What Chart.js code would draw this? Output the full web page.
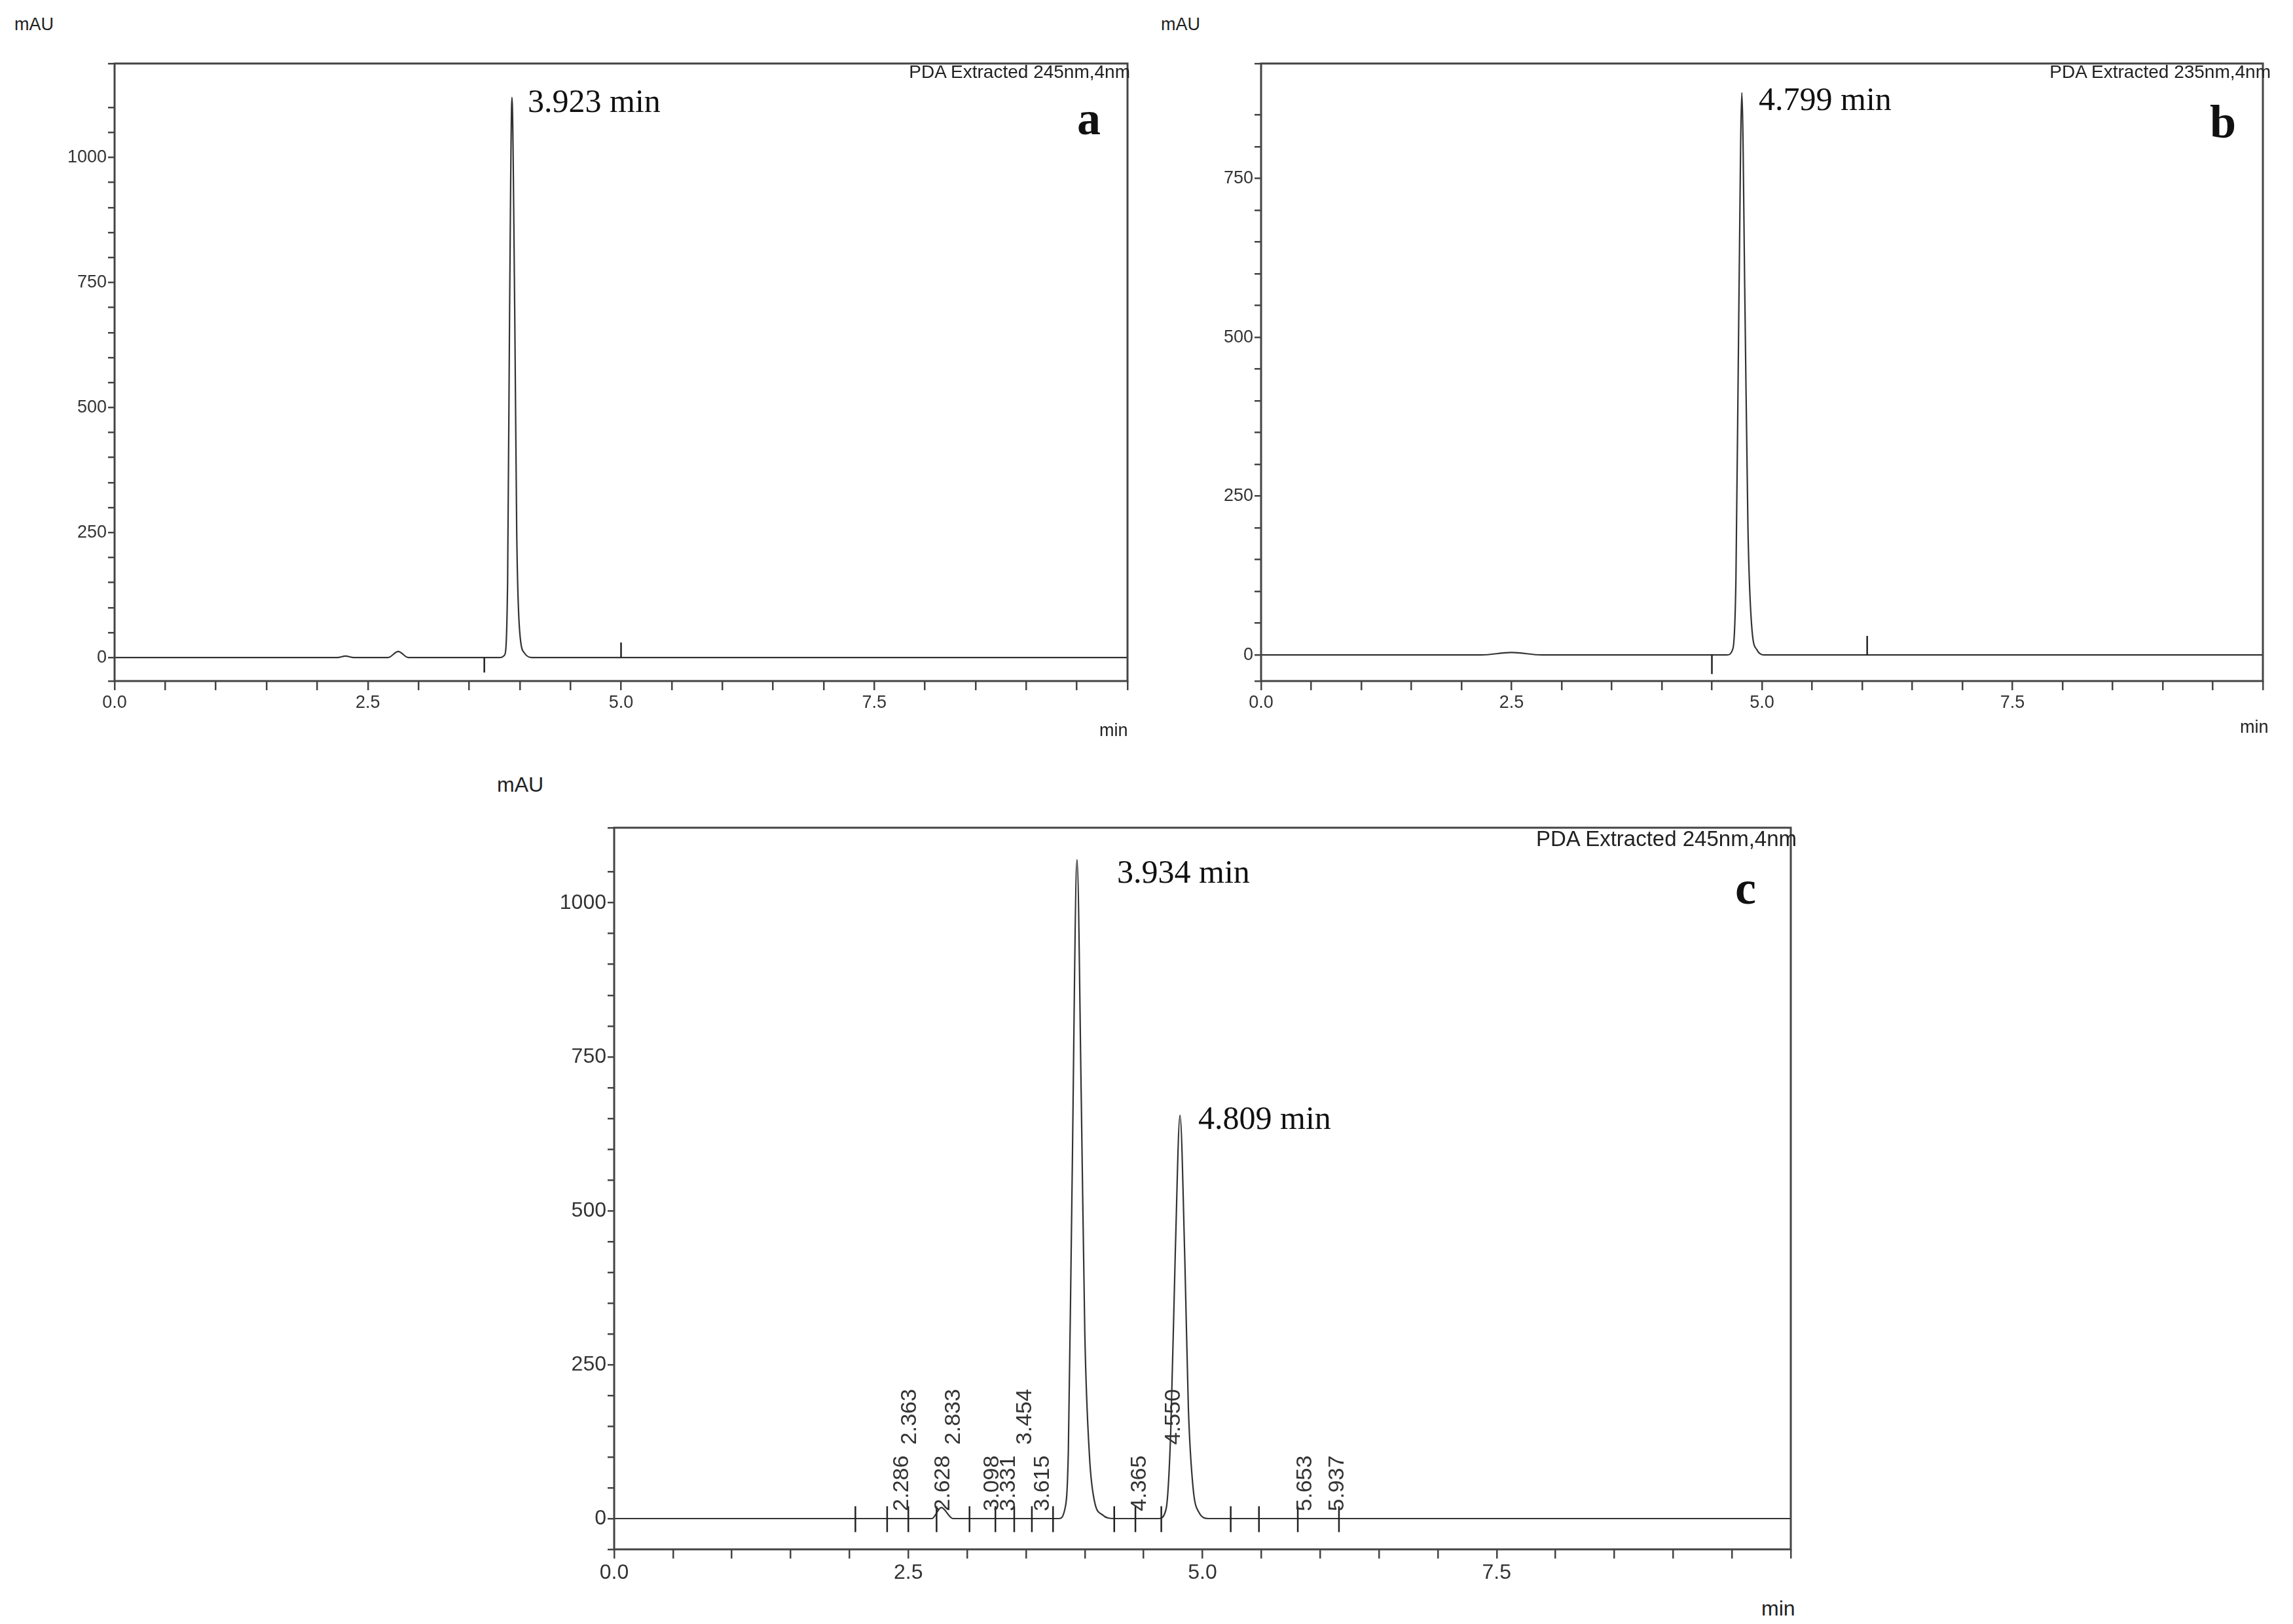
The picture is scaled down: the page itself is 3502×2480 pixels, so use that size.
<!DOCTYPE html>
<html><head><meta charset="utf-8">
<script src="https://cdn.jsdelivr.net/npm/chart.js@4"></script>
<style>
  body { margin:0; width:3502px; height:2480px; background:#fff; position:relative; overflow:hidden; font-family:"Liberation Sans", Arial, sans-serif; }
  canvas { position:absolute; }
  .t { position:absolute; white-space:nowrap; color:#222; }
  .ax { font-size:27px; }
  .pda { font-size:28px; }
  .pk { font-family:"Liberation Serif", "Times New Roman", serif; font-size:50px; color:#111; }
  .lt { font-family:"Liberation Serif", serif; font-weight:bold; font-size:72px; color:#111; }
</style></head>
<body>
<canvas id="ca"></canvas>
<canvas id="cb"></canvas>
<canvas id="cc"></canvas>

<div class="t ax" style="left:22px;top:22px">mAU</div>
<div class="t pda" style="right:1776px;top:94px">PDA Extracted 245nm,4nm</div>
<div class="t pk" style="left:806px;top:125px">3.923 min</div>
<div class="t lt" style="left:1645px;top:140px">a</div>
<div class="t ax" style="left:1679px;top:1100px">min</div>

<div class="t ax" style="left:1773px;top:22px">mAU</div>
<div class="t pda" style="right:34px;top:94px">PDA Extracted 235nm,4nm</div>
<div class="t pk" style="left:2686px;top:122px">4.799 min</div>
<div class="t lt" style="left:3375px;top:145px">b</div>
<div class="t ax" style="left:3421px;top:1095px">min</div>

<div class="t ax" style="left:759px;top:1180px;font-size:32px">mAU</div>
<div class="t pda" style="right:758px;top:1262px;font-size:33px">PDA Extracted 245nm,4nm</div>
<div class="t pk" style="left:1706px;top:1302px">3.934 min</div>
<div class="t pk" style="left:1830px;top:1678px">4.809 min</div>
<div class="t lt" style="left:2650px;top:1315px">c</div>
<div class="t ax" style="left:2690px;top:2438px;font-size:32px">min</div>

<script>
// ── Data (time in min, absorbance in mAU) ──────────────────

const traceA = [
  [0,0],[2.2,0],[2.28,3],[2.36,0],[2.7,0],[2.8,12],[2.9,0],[3.8,0],[3.85,5],[3.88,150],[3.9,700],
  [3.923,1120],[3.95,700],[3.97,250],[4.0,50],[4.05,8],[4.12,0],[10,0]
];
const markersA = [[3.65,-30],[5.0,30]];

const traceB = [
  [0,0],[2.2,0],[2.5,4],[2.8,0],[4.65,0],[4.71,10],[4.74,120],[4.77,560],[4.799,885],[4.83,550],
  [4.86,200],[4.9,40],[4.95,8],[5.02,0],[10,0]
];
const markersB = [[4.5,-30],[6.05,30]];

const traceC = [
  [0,0],[2.7,0],[2.78,18],[2.88,0],[3.78,0],[3.83,15],[3.86,110],[3.89,520],[3.934,1070],[3.97,680],
  [4.0,300],[4.04,100],[4.08,30],[4.15,6],[4.25,0],[4.63,0],[4.69,15],[4.73,140],[4.77,440],
  [4.809,655],[4.85,420],[4.88,180],[4.92,50],[4.97,10],[5.05,0],[10,0]
];
const markersC = [2.05,2.32,2.5,2.74,3.02,3.24,3.4,3.55,3.73,4.25,4.43,4.65,5.24,5.48,5.81,6.16];
const lowLabels = [["2.286",2.43],["2.628",2.78],["3.098",3.2],["3.331",3.34],["3.615",3.63],
  ["4.365",4.45],["5.653",5.86],["5.937",6.13]];
const highLabels = [["2.363",2.5],["2.833",2.87],["3.454",3.48],["4.550",4.74]];

// ── Helpers ────────────────────────────────────────────────

const pts = arr => arr.map(([x, y]) => ({ x, y }));

const boxPlugin = {
  id: "box",
  afterDraw(chart) {
    const { ctx, chartArea: a } = chart;
    ctx.save();
    ctx.strokeStyle = "#444";
    ctx.lineWidth = 3;
    ctx.strokeRect(a.left, a.top, a.right - a.left, a.bottom - a.top);
    ctx.restore();
  },
};

function markerPlugin(marks, labels) {
  return {
    id: "marks",
    afterDatasetsDraw(chart) {
      const { ctx, scales: { x, y } } = chart;
      ctx.save();
      ctx.strokeStyle = "#222";
      ctx.lineWidth = 2.5;
      marks.forEach(([mx, my]) => {
        ctx.beginPath();
        ctx.moveTo(x.getPixelForValue(mx), y.getPixelForValue(0));
        ctx.lineTo(x.getPixelForValue(mx), y.getPixelForValue(my));
        ctx.stroke();
      });
      ctx.fillStyle = "#333";
      ctx.font = "34px 'Liberation Sans', Arial, sans-serif";
      (labels || []).forEach(([txt, lx, ly]) => {
        ctx.save();
        ctx.translate(x.getPixelForValue(lx) + 12, y.getPixelForValue(ly));
        ctx.rotate(-Math.PI / 2);
        ctx.textAlign = "left";
        ctx.fillText(txt, 0, 0);
        ctx.restore();
      });
      ctx.restore();
    },
  };
}

function makeChart(id, box, data, ymin, ymax, plugins, fontSize) {
  const el = document.getElementById(id);
  el.style.left = box.left + "px";
  el.style.top = box.top + "px";
  el.width = box.w; el.height = box.h;
  return new Chart(el, {
    type: "line",
    data: { datasets: [{
      data: pts(data), borderColor: "#333", borderWidth: 2.2, pointRadius: 0,
      cubicInterpolationMode: "monotone", fill: false,
    }] },
    options: {
      responsive: false, animation: false, devicePixelRatio: 1,
      layout: { padding: { top: 37, right: 20, left: 0, bottom: 0 } },
      plugins: { legend: { display: false }, tooltip: { enabled: false } },
      scales: {
        x: {
          type: "linear", min: 0, max: 10,
          afterFit: s => { s.height = 70; },
          border: { display: false },
          grid: { drawOnChartArea: false, tickLength: 14, color: "#444", lineWidth: 2.5 },
          ticks: {
            stepSize: 0.5, autoSkip: false, maxRotation: 0, color: "#333",
            font: { family: "'Liberation Sans', Arial", size: fontSize },
            callback: v => (Math.abs(v / 2.5 - Math.round(v / 2.5)) < 1e-6 && v < 10 ? v.toFixed(1) : ""),
          },
        },
        y: {
          min: ymin, max: ymax,
          afterFit: s => { s.width = 90; },
          border: { display: false },
          grid: { drawOnChartArea: false, tickLength: 10, color: "#444", lineWidth: 2.5 },
          ticks: {
            stepSize: 50, autoSkip: false, color: "#333", padding: 2,
            font: { family: "'Liberation Sans', Arial", size: fontSize },
            callback: v => (v % 250 === 0 ? String(v) : ""),
          },
        },
      },
    },
    plugins: [boxPlugin, ...plugins],
  });
}

// ── Go ─────────────────────────────────────────────────────

makeChart("ca", { left: 85, top: 60, w: 1657, h: 1050 }, traceA, -47, 1188,
  [markerPlugin(markersA)], 27);
makeChart("cb", { left: 1836, top: 60, w: 1640, h: 1050 }, traceB, -41, 931,
  [markerPlugin(markersB)], 27);
makeChart("cc", { left: 848, top: 1227, w: 1907, h: 1209 }, traceC, -50, 1122,
  [markerPlugin(markersC.map(m => [m, -22]).concat(markersC.map(m => [m, 20])),
    lowLabels.map(([t, x]) => [t, x, 12]).concat(highLabels.map(([t, x]) => [t, x, 120])))], 32);
</script>
</body></html>
